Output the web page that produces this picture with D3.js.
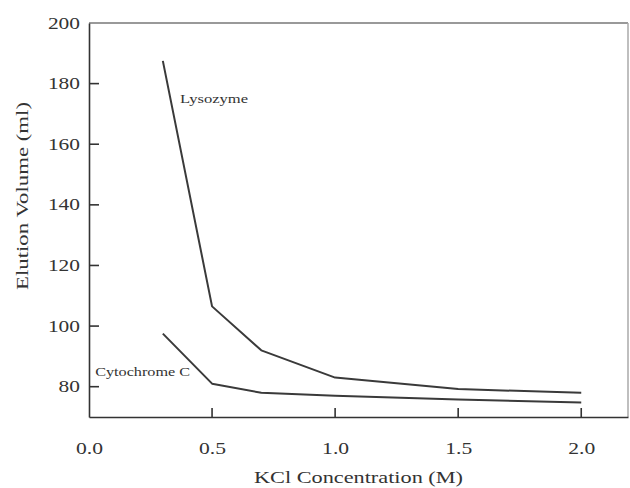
<!DOCTYPE html>
<html>
<head>
<meta charset="utf-8">
<script src="https://cdn.jsdelivr.net/npm/d3@7"></script>
<style>
    body { margin: 0; background: #fff; }
    svg { display: block; }
    text { font-family: "Liberation Serif", "DejaVu Serif", serif; fill: #333; }
</style>
</head>
<body>
<svg id="chart" width="630" height="488"></svg>
<script>
// values
const kcl = [0.3, 0.5, 0.7, 1.0, 1.5, 2.0];
const lysozyme = [187.5, 106.5, 92, 83, 79.2, 78];
const cytochromeC = [97.5, 81, 78, 77, 75.8, 74.8];
const xTicks = [0, 0.5, 1.0, 1.5, 2.0];
const yTicks = [80, 100, 120, 140, 160, 180, 200];

const svg = d3.select("#chart");
const margin = { left: 89, top: 23, right: 2, bottom: 71 };
const width = 630 - margin.left - margin.right;
const height = 488 - margin.top - margin.bottom;

const x = d3.scaleLinear().domain([0, 2.19]).range([0, width]);
const y = d3.scaleLinear().domain([70, 200]).range([height, 0]);

const g = svg.append("g").attr("transform", `translate(${margin.left},${margin.top})`);

// frame (top and right edges are lighter)
g.append("line").attr("x1", 0).attr("x2", width).attr("y1", 0).attr("y2", 0)
    .attr("stroke", "#999").attr("stroke-width", 2);
g.append("line").attr("x1", width).attr("x2", width).attr("y1", 0).attr("y2", height)
    .attr("stroke", "#aaa").attr("stroke-width", 1.5);

// axes: labels from d3.axis, inward ticks drawn separately below
const xAxis = g.append("g")
    .attr("transform", `translate(0,${height})`)
    .call(d3.axisBottom(x).tickValues(xTicks).tickSize(0)
        .tickFormat(d3.format(".1f")).tickPadding(26));
const yAxis = g.append("g")
    .call(d3.axisLeft(y).tickValues(yTicks).tickSize(0).tickPadding(9));

[xAxis, yAxis].forEach(a => {
    a.select(".domain").attr("stroke", "#333").attr("stroke-width", 1.6);
    a.selectAll("text").style("font-size", "16px").attr("fill", "#444")
        .attr("lengthAdjust", "spacingAndGlyphs");
});
// the printed figure is wider than normal type, stretch digits to match
xAxis.selectAll("text").attr("textLength", 27);
yAxis.selectAll("text").attr("textLength", d => String(d).length * 10.7);

// inward ticks
g.append("g").attr("class", "xticks").selectAll("line")
    .data(xTicks.filter(d => d > 0))
    .join("line")
    .attr("x1", d => x(d)).attr("x2", d => x(d))
    .attr("y1", height).attr("y2", height - 9)
    .attr("stroke", "#333").attr("stroke-width", 1.6);
g.append("g").attr("class", "yticks").selectAll("line")
    .data(yTicks.filter(d => d < 200))
    .join("line")
    .attr("x1", 0).attr("x2", 10)
    .attr("y1", d => y(d)).attr("y2", d => y(d))
    .attr("stroke", "#333").attr("stroke-width", 1.6);

// series
const line = d3.line().x((d, i) => x(kcl[i])).y(d => y(d));
[lysozyme, cytochromeC].forEach(series => {
    g.append("path")
        .datum(series)
        .attr("d", line)
        .attr("fill", "none")
        .attr("stroke", "#3a3a3a")
        .attr("stroke-width", 2)
        .attr("stroke-linejoin", "round");
});

// series labels
g.append("text")
    .attr("x", x(0.37)).attr("y", y(173.5))
    .attr("textLength", 68).attr("lengthAdjust", "spacingAndGlyphs")
    .style("font-size", "12px")
    .text("Lysozyme");
g.append("text")
    .attr("x", x(0.025)).attr("y", y(83.5))
    .attr("textLength", 95).attr("lengthAdjust", "spacingAndGlyphs")
    .style("font-size", "12px")
    .text("Cytochrome C");

// axis titles
svg.append("text")
    .attr("x", margin.left + width / 2).attr("y", 483)
    .attr("text-anchor", "middle")
    .attr("textLength", 209).attr("lengthAdjust", "spacingAndGlyphs")
    .style("font-size", "16px")
    .text("KCl Concentration  (M)");
svg.append("text")
    .attr("transform", "translate(28,196) rotate(-90)")
    .attr("text-anchor", "middle")
    .attr("textLength", 188).attr("lengthAdjust", "spacingAndGlyphs")
    .style("font-size", "16px")
    .text("Elution Volume  (ml)");
</script>
</body>
</html>
